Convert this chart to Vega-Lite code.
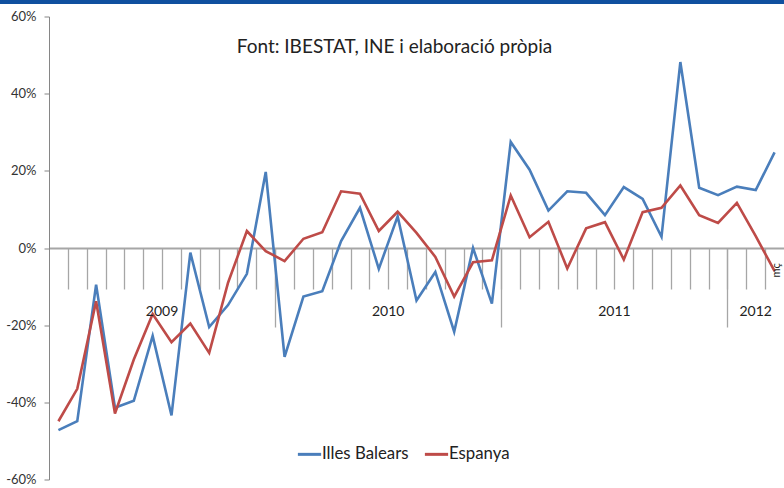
{
  "$schema": "https://vega.github.io/schema/vega-lite/v6.json",
  "width": 735,
  "height": 463,
  "autosize": "none",
  "padding": {"left": 49, "top": 16.5, "right": 0, "bottom": 8.5},
  "background": "white",
  "config": {"view": {"stroke": null}, "font": "Lato"},
  "datasets": {
    "series": [
      {"idx": 0, "any": "2009", "mes": "gen", "Illes Balears": -47.2, "Espanya": -44.9},
      {"idx": 1, "any": "2009", "mes": "feb", "Illes Balears": -44.9, "Espanya": -36.5},
      {"idx": 2, "any": "2009", "mes": "mç", "Illes Balears": -9.5, "Espanya": -13.8},
      {"idx": 3, "any": "2009", "mes": "abr", "Illes Balears": -41.4, "Espanya": -42.9},
      {"idx": 4, "any": "2009", "mes": "mai", "Illes Balears": -39.6, "Espanya": -28.9},
      {"idx": 5, "any": "2009", "mes": "jun", "Illes Balears": -22.8, "Espanya": -17.1},
      {"idx": 6, "any": "2009", "mes": "jul", "Illes Balears": -43.4, "Espanya": -24.4},
      {"idx": 7, "any": "2009", "mes": "ago", "Illes Balears": -1.2, "Espanya": -19.6},
      {"idx": 8, "any": "2009", "mes": "set", "Illes Balears": -20.5, "Espanya": -27.2},
      {"idx": 9, "any": "2009", "mes": "oct", "Illes Balears": -14.8, "Espanya": -9.0},
      {"idx": 10, "any": "2009", "mes": "nov", "Illes Balears": -6.7, "Espanya": 4.4},
      {"idx": 11, "any": "2009", "mes": "des", "Illes Balears": 19.7, "Espanya": -0.8},
      {"idx": 12, "any": "2010", "mes": "gen", "Illes Balears": -28.2, "Espanya": -3.4},
      {"idx": 13, "any": "2010", "mes": "feb", "Illes Balears": -12.6, "Espanya": 2.4},
      {"idx": 14, "any": "2010", "mes": "mç", "Illes Balears": -11.2, "Espanya": 4.1},
      {"idx": 15, "any": "2010", "mes": "abr", "Illes Balears": 1.8, "Espanya": 14.7},
      {"idx": 16, "any": "2010", "mes": "mai", "Illes Balears": 10.4, "Espanya": 14.1},
      {"idx": 17, "any": "2010", "mes": "jun", "Illes Balears": -5.4, "Espanya": 4.4},
      {"idx": 18, "any": "2010", "mes": "jul", "Illes Balears": 8.2, "Espanya": 9.4},
      {"idx": 19, "any": "2010", "mes": "ago", "Illes Balears": -13.6, "Espanya": 3.9},
      {"idx": 20, "any": "2010", "mes": "set", "Illes Balears": -6.2, "Espanya": -2.3},
      {"idx": 21, "any": "2010", "mes": "oct", "Illes Balears": -21.7, "Espanya": -12.6},
      {"idx": 22, "any": "2010", "mes": "nov", "Illes Balears": 0.0, "Espanya": -3.7},
      {"idx": 23, "any": "2010", "mes": "des", "Illes Balears": -14.4, "Espanya": -3.2},
      {"idx": 24, "any": "2011", "mes": "gen", "Illes Balears": 27.5, "Espanya": 13.6},
      {"idx": 25, "any": "2011", "mes": "feb", "Illes Balears": 20.3, "Espanya": 2.8},
      {"idx": 26, "any": "2011", "mes": "mç", "Illes Balears": 9.7, "Espanya": 6.8},
      {"idx": 27, "any": "2011", "mes": "abr", "Illes Balears": 14.7, "Espanya": -5.3},
      {"idx": 28, "any": "2011", "mes": "mai", "Illes Balears": 14.3, "Espanya": 5.1},
      {"idx": 29, "any": "2011", "mes": "jun", "Illes Balears": 8.5, "Espanya": 6.7},
      {"idx": 30, "any": "2011", "mes": "jul", "Illes Balears": 15.8, "Espanya": -3.0},
      {"idx": 31, "any": "2011", "mes": "ago", "Illes Balears": 12.7, "Espanya": 9.3},
      {"idx": 32, "any": "2011", "mes": "set", "Illes Balears": 2.9, "Espanya": 10.4},
      {"idx": 33, "any": "2011", "mes": "oct", "Illes Balears": 48.2, "Espanya": 16.2},
      {"idx": 34, "any": "2011", "mes": "nov", "Illes Balears": 15.6, "Espanya": 8.5},
      {"idx": 35, "any": "2011", "mes": "des", "Illes Balears": 13.7, "Espanya": 6.5},
      {"idx": 36, "any": "2012", "mes": "gen", "Illes Balears": 15.9, "Espanya": 11.7},
      {"idx": 37, "any": "2012", "mes": "feb", "Illes Balears": 15.0, "Espanya": 3.1},
      {"idx": 38, "any": "2012", "mes": "mç", "Illes Balears": 24.8, "Espanya": -6.0}
    ]
  },
  "data": {"name": "series"},
  "resolve": {"axis": {"x": "independent"}},
  "layer": [
    {
      "data": {"values": [{"banda": "capçalera"}]},
      "mark": {"type": "rect", "color": "#10509F"},
      "encoding": {
        "x": {"datum": -4, "type": "quantitative", "scale": {"domain": [-0.5, 38.5], "nice": false, "zero": false}, "axis": null},
        "x2": {"datum": 40},
        "y": {"datum": 66, "type": "quantitative"},
        "y2": {"datum": 63.25}
      }
    },
    {
      "transform": [
        {"fold": ["Illes Balears", "Espanya"], "as": ["sèrie", "valor"]}
      ],
      "mark": {"type": "line", "strokeWidth": 2.6, "strokeJoin": "miter"},
      "encoding": {
        "x": {
          "field": "idx", "type": "quantitative",
          "scale": {"domain": [-0.5, 38.5], "nice": false, "zero": false},
          "axis": {
            "orient": "bottom", "offset": -231.5,
            "values": [0.5, 1.5, 2.5, 3.5, 4.5, 5.5, 6.5, 7.5, 8.5, 9.5, 10.5, 11.5, 12.5, 13.5, 14.5, 15.5, 16.5, 17.5, 18.5, 19.5, 20.5, 21.5, 22.5, 23.5, 24.5, 25.5, 26.5, 27.5, 28.5, 29.5, 30.5, 31.5, 32.5, 33.5, 34.5, 35.5, 36.5, 37.5],
            "labels": false, "tickSize": 41, "tickColor": "#a6a6a6", "tickWidth": 1.3,
            "domainColor": "#a6a6a6", "domainWidth": 1.8, "grid": false, "title": null
          }
        },
        "y": {
          "field": "valor", "type": "quantitative",
          "scale": {"domain": [-60, 60], "nice": false, "zero": false},
          "axis": {
            "values": [-60, -40, -20, 0, 20, 40, 60],
            "labelExpr": "datum.value + '%'",
            "tickSize": 5, "labelPadding": 8, "domainColor": "#868686", "tickColor": "#868686",
            "grid": false, "title": null, "labelFont": "Lato", "labelFontSize": 13, "labelColor": "#333333"
          }
        },
        "color": {
          "field": "sèrie", "type": "nominal",
          "scale": {"domain": ["Illes Balears", "Espanya"], "range": ["#4A7EBB", "#BE4B48"]},
          "legend": {
            "orient": "none", "legendX": 247, "legendY": 424, "direction": "horizontal", "title": null,
            "symbolType": "stroke", "symbolSize": 540, "symbolStrokeWidth": 3,
            "labelFont": "Lato", "labelFontSize": 16.8, "labelColor": "#222222",
            "labelOffset": -1, "columnPadding": 9
          }
        }
      }
    },
    {
      "transform": [{"filter": "datum.idx > 0 && datum.mes == 'gen'"}],
      "mark": {"type": "tick", "opacity": 0},
      "encoding": {
        "x": {
          "field": "idx", "type": "quantitative",
          "scale": {"domain": [-0.5, 38.5], "nice": false, "zero": false},
          "axis": {
            "orient": "bottom", "offset": -231.5,
            "values": [11.5, 23.5, 35.5],
            "labels": false, "tickSize": 79, "tickColor": "#a6a6a6", "tickWidth": 1.3,
            "domain": false, "grid": false, "title": null
          }
        },
        "y": {"datum": 0, "type": "quantitative"}
      }
    },
    {
      "transform": [
        {"aggregate": [{"op": "mean", "field": "idx", "as": "centre"}], "groupby": ["any"]}
      ],
      "mark": {"type": "text", "font": "Lato", "fontSize": 14, "color": "#222222", "baseline": "middle", "align": "center"},
      "encoding": {
        "x": {"field": "centre", "type": "quantitative", "scale": {"domain": [-0.5, 38.5], "nice": false, "zero": false}, "axis": null},
        "y": {"datum": -16.6, "type": "quantitative"},
        "text": {"field": "any"}
      }
    },
    {
      "transform": [{"filter": "datum.idx == 38"}],
      "mark": {"type": "text", "font": "Lato", "fontSize": 11, "color": "#222222", "baseline": "middle", "align": "center", "angle": 270, "dy": 2},
      "encoding": {
        "x": {"field": "idx", "type": "quantitative", "scale": {"domain": [-0.5, 38.5], "nice": false, "zero": false}, "axis": null},
        "y": {"datum": -5.8, "type": "quantitative"},
        "text": {"field": "mes"}
      }
    },
    {
      "data": {"values": [{"font": "Font: IBESTAT, INE i elaboració pròpia"}]},
      "mark": {"type": "text", "font": "Lato", "fontSize": 19, "color": "#222222", "baseline": "middle", "align": "center"},
      "encoding": {
        "x": {"datum": 17.83, "type": "quantitative", "scale": {"domain": [-0.5, 38.5], "nice": false, "zero": false}, "axis": null},
        "y": {"datum": 52, "type": "quantitative"},
        "text": {"field": "font"}
      }
    }
  ]
}
